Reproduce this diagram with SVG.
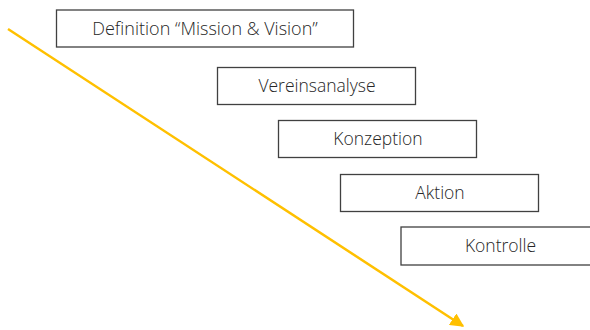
<svg xmlns="http://www.w3.org/2000/svg" width="590" height="330" viewBox="0 0 590 330">
<style>
.box{fill:#fff;stroke:#404040;stroke-width:1.3}
.lbl{font-family:"Open Sans","Noto Sans","Liberation Sans",sans-serif;font-size:17.5px;font-weight:300;fill:#262626;text-anchor:middle}
</style>
<defs>
<marker id="ah" viewBox="0 0 10 10" refX="9" refY="5" markerWidth="5.5" markerHeight="5.5" orient="auto" markerUnits="strokeWidth">
<path d="M0,0 L10,5 L0,10 z" fill="#FFC000"/>
</marker>
</defs>
<rect width="590" height="330" fill="#fff"/>
<g id="connectors">
<line x1="8" y1="29" x2="463" y2="326" stroke="#FFC000" stroke-width="2.5" marker-end="url(#ah)"/>
</g>
<g id="n1"><rect class="box" x="56.5" y="10" width="297" height="37"/><text class="lbl" x="205" y="34.5" style="font-size:18px">Definition “Mission &amp; Vision”</text></g>
<g id="n2"><rect class="box" x="217.5" y="67.5" width="198" height="37"/><text class="lbl" x="317" y="92">Vereinsanalyse</text></g>
<g id="n3"><rect class="box" x="278.5" y="120.5" width="198" height="37"/><text class="lbl" x="378" y="145">Konzeption</text></g>
<g id="n4"><rect class="box" x="340.5" y="174.5" width="198" height="37"/><text class="lbl" x="440" y="199">Aktion</text></g>
<g id="n5"><rect class="box" x="401" y="227" width="198" height="38"/><text class="lbl" x="500.5" y="252">Kontrolle</text></g>
</svg>
